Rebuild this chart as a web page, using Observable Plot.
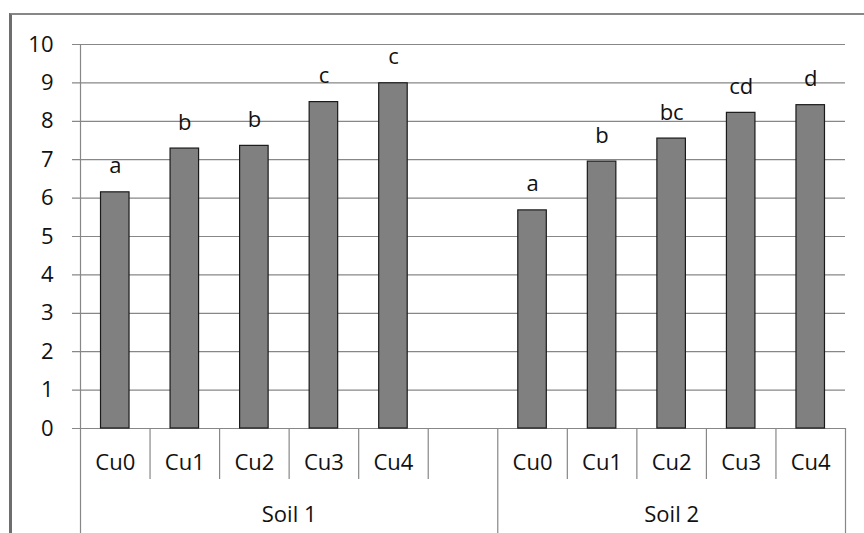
<!DOCTYPE html>
<html><head><meta charset="utf-8">
<script src="https://cdn.jsdelivr.net/npm/d3@7"></script>
<script src="https://cdn.jsdelivr.net/npm/@observablehq/plot@0.6"></script>
<style>
html,body{margin:0;padding:0;background:#fff;}
#wrap{position:relative;width:864px;height:533px;overflow:hidden;background:#fff;}
#frame{position:absolute;left:9px;top:13px;width:900px;height:600px;border-top:2px solid #878787;border-left:3px solid #6e6e6e;box-sizing:border-box;}
#chart{position:absolute;left:0;top:0;}
</style></head><body>
<div id="wrap"><div id="frame"></div><div id="chart"></div></div>
<script>
const soils = ["Soil 1", "Soil 2"];
const treatments = ["Cu0", "Cu1", "Cu2", "Cu3", "Cu4"];
const soil1Values = [6.15, 7.29, 7.36, 8.50, 8.99];
const soil2Values = [5.68, 6.95, 7.55, 8.22, 8.42];
const soil1Letters = ["a", "b", "b", "c", "c"];
const soil2Letters = ["a", "b", "bc", "cd", "d"];
const yTicks = [0, 1, 2, 3, 4, 5, 6, 7, 8, 9, 10];

// Category slots: Soil 1 carries an extra blank category, as in the original chart
const slots = [];
treatments.forEach((t, k) => slots.push({soil: soils[0], label: t, value: soil1Values[k], letter: soil1Letters[k]}));
slots.push({soil: soils[0], label: "", value: null, letter: ""});
treatments.forEach((t, k) => slots.push({soil: soils[1], label: t, value: soil2Values[k], letter: soil2Letters[k]}));
slots.forEach((d, i) => d.i = i);
const bars = slots.filter(d => d.value != null);
const n = slots.length;
const bounds = d3.range(n - 1).map(i => i + 0.5);
const innerBounds = bounds.filter(b => slots[Math.floor(b)].soil === slots[Math.ceil(b)].soil);
const groupBounds = bounds.filter(b => slots[Math.floor(b)].soil !== slots[Math.ceil(b)].soil).concat([n - 0.5]);
const groups = soils.map(s => {
  const g = slots.filter(d => d.soil === s);
  return {soil: s, x: (g[0].i + g[g.length - 1].i) / 2};
});

const gridColor = "#878787";
const fs = 22;
const font = "'Open Sans', sans-serif";
const chart = Plot.plot({
  width: 864,
  height: 533,
  marginTop: 44,
  marginLeft: 80,
  marginRight: 19,
  marginBottom: 105,
  x: {type: "linear", domain: [-0.5, n - 0.5], axis: null},
  y: {domain: [0, 10], axis: null},
  style: {fontFamily: font, color: "#000", background: "transparent"},
  marks: [
    Plot.ruleY(yTicks, {stroke: gridColor, strokeWidth: 1.2, insetLeft: -8}),
    Plot.ruleX([-0.5], {stroke: gridColor, strokeWidth: 1.2, insetBottom: -105}),
    Plot.ruleX(innerBounds, {y1: 0, y2: 0, stroke: gridColor, strokeWidth: 1.2, insetBottom: -51}),
    Plot.ruleX(groupBounds, {y1: 0, y2: 0, stroke: gridColor, strokeWidth: 1.2, insetBottom: -105}),
    Plot.rectY(bars, {x1: d => d.i - 0.205, x2: d => d.i + 0.205, y: "value", fill: "#808080", stroke: "#1a1a1a", strokeWidth: 1.2}),
    Plot.text(yTicks, {x: -0.5, y: d => d, text: d => String(d), textAnchor: "end", dx: -27, fill: "#111", fontSize: fs, fontFamily: font}),
    Plot.text(bars, {x: "i", y: "value", text: "letter", dy: -26, fill: "#111", fontSize: fs, fontFamily: font}),
    Plot.text(bars, {x: "i", y: 0, text: "label", dy: 34, fill: "#111", fontSize: fs, fontFamily: font}),
    Plot.text(groups, {x: "x", y: 0, text: "soil", dy: 86, fill: "#111", fontSize: fs, fontFamily: font})
  ]
});
document.getElementById("chart").appendChild(chart);
</script>
</body></html>
